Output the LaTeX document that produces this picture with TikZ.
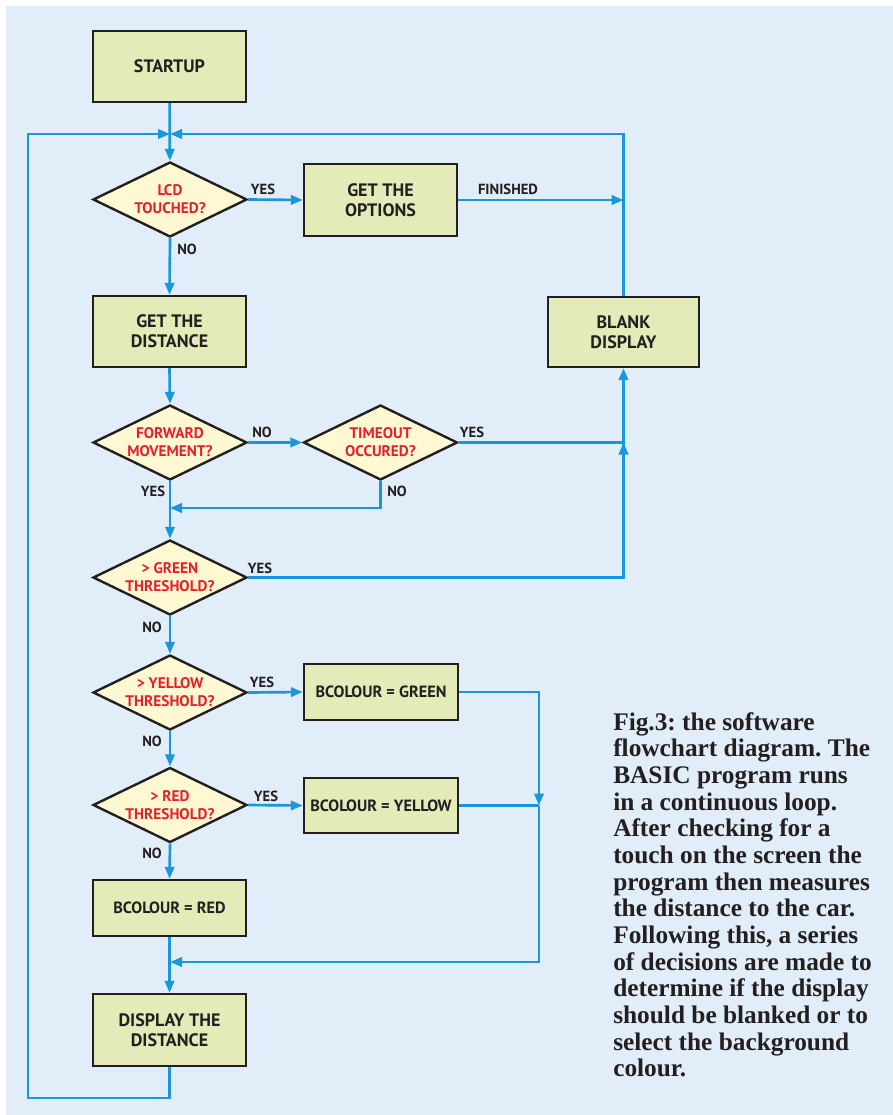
\documentclass[tikz,border=0pt]{standalone}
\usepackage{fontspec}
\setmainfont{Liberation Serif}
\newfontfamily\flowfont{PT Sans}
\usetikzlibrary{shapes.geometric,arrows.meta}
\definecolor{bgblue}{HTML}{E1EDF8}
\definecolor{boxfill}{HTML}{E3EBB8}
\definecolor{diafill}{HTML}{FFF9D3}
\definecolor{flowblue}{HTML}{1A96DB}
\definecolor{flowred}{HTML}{E4202A}
\definecolor{ink}{HTML}{231F20}
\frenchspacing
\begin{document}
\begin{tikzpicture}[x=0.75pt,y=-0.75pt,
  procbox/.style={draw=ink,line width=1.8pt,fill=boxfill,rectangle,inner sep=0pt,
    align=center,text=ink,font=\flowfont\bfseries\fontsize{13.5}{15}\selectfont,
    minimum width=114.75pt},
  smallbox/.style={procbox,font=\flowfont\bfseries\fontsize{12.2}{13}\selectfont},
  decision/.style={draw=ink,line width=1.8pt,fill=diafill,diamond,aspect=2.05,inner sep=0pt,
    align=center,text=flowred,font=\flowfont\bfseries\fontsize{11.5}{13.5}\selectfont,
    minimum width=115.5pt,minimum height=56.25pt},
  flow/.style={draw=flowblue,line width=2pt},
  arr/.style={flow,-{Triangle[length=9pt,width=7pt]}},
  lbl/.style={text=ink,font=\flowfont\bfseries\fontsize{11}{12}\selectfont,inner sep=0pt},
  caption/.style={text=ink,font=\bfseries\fontsize{19}{20}\selectfont,align=left,inner sep=0pt}
]
\fill[white] (0,0) rectangle (893,1115);
\useasboundingbox (0,0) rectangle (893,1115);
\fill[bgblue] (6,6) rectangle (893,1115);

% nodes
\node[procbox,minimum height=53.25pt] (start) at (169.5,66.5) {STARTUP};
\node[decision] (lcd) at (170,199.5) {LCD\\TOUCHED?};
\node[procbox,minimum height=54pt] (opts) at (380.5,200) {GET THE\\OPTIONS};
\node[procbox,minimum height=53.25pt] (dist) at (169.5,331.5) {GET THE\\DISTANCE};
\node[procbox,minimum width=113.25pt,minimum height=52.5pt] (blank) at (623.5,332) {BLANK\\DISPLAY};
\node[decision] (fwd) at (170,442.5) {FORWARD\\MOVEMENT?};
\node[decision] (tmo) at (380.5,442.5) {TIMEOUT\\OCCURED?};
\node[decision] (grn) at (170,577.5) {> GREEN\\THRESHOLD?};
\node[decision] (yel) at (170,692.5) {> YELLOW\\THRESHOLD?};
\node[decision] (red) at (170,805) {> RED\\THRESHOLD?};
\node[smallbox,minimum width=115.5pt,minimum height=42pt] (bg) at (381,692) {BCOLOUR = GREEN};
\node[smallbox,minimum width=115.5pt,minimum height=41.25pt] (by) at (381,805.5) {BCOLOUR = YELLOW};
\node[smallbox,minimum height=42pt] (br) at (169.5,908) {BCOLOUR = RED};
\node[procbox,minimum height=54pt] (disp) at (169.5,1030) {DISPLAY THE\\DISTANCE};

% junction coordinates
\coordinate (j1) at (170,134);
\coordinate (lb) at (28,1098);
\coordinate (j2) at (170,508);
\coordinate (j3) at (539,805.5);
\coordinate (j4) at (170,962);

% connectors
\draw[arr] (start) -- (lcd);
\draw[arr] (disp.south) |- (lb) |- (j1);
\draw[arr] (blank.north) |- (j1);
\draw[arr] (lcd.east) -- (opts.west);
\draw[arr] (lcd.south) -- (dist.north);
\draw[arr] (opts.east) -- (opts.east -| blank.north);
\draw[arr] (dist.south) -- (fwd.north);
\draw[arr] (fwd.east) -- (tmo.west);
\draw[flow] (tmo.east) -- (tmo.east -| blank.south);
\draw[arr] (grn.east) -| (blank.south);
\draw[arr] (grn.east -| blank.south) -- (tmo.east -| blank.south);
\draw[arr] (fwd.south) -- (grn.north);
\draw[arr] (tmo.south) |- (j2);
\draw[arr] (grn.south) -- (yel.north);
\draw[arr] (yel.east) -- (bg.west);
\draw[arr] (yel.south) -- (red.north);
\draw[arr] (red.east) -- (by.west);
\draw[arr] (red.south) -- (br.north);
\draw[arr] (bg.east) -| (j3);
\draw[flow] (by.east) -- (j3);
\draw[arr] (j3) |- (j4);
\draw[arr] (br.south) -- (disp.north);

% labels
\node[lbl] (l1) at (263,189) {YES};
\node[lbl] (l2) at (187,249) {NO};
\node[lbl] (l3) at (508,189) {FINISHED};
\node[lbl] (l4) at (262,432) {NO};
\node[lbl] (l5) at (472,432) {YES};
\node[lbl] (l6) at (153,491) {YES};
\node[lbl] (l7) at (397,491) {NO};
\node[lbl] (l8) at (260,568) {YES};
\node[lbl] (l9) at (152,627) {NO};
\node[lbl] (l10) at (262,682) {YES};
\node[lbl] (l11) at (152,741) {NO};
\node[lbl] (l12) at (266,796) {YES};
\node[lbl] (l13) at (152,853) {NO};

% caption
\node[caption,anchor=north west] (cap) at (613,712) {Fig.3: the software\\
flowchart diagram. The\\
BASIC program runs\\
in a continuous loop.\\
After checking for a\\
touch on the screen the\\
program then measures\\
the distance to the car.\\
Following this, a series\\
of decisions are made to\\
determine if the display\\
should be blanked or to\\
select the background\\
colour.};
\end{tikzpicture}
\end{document}
